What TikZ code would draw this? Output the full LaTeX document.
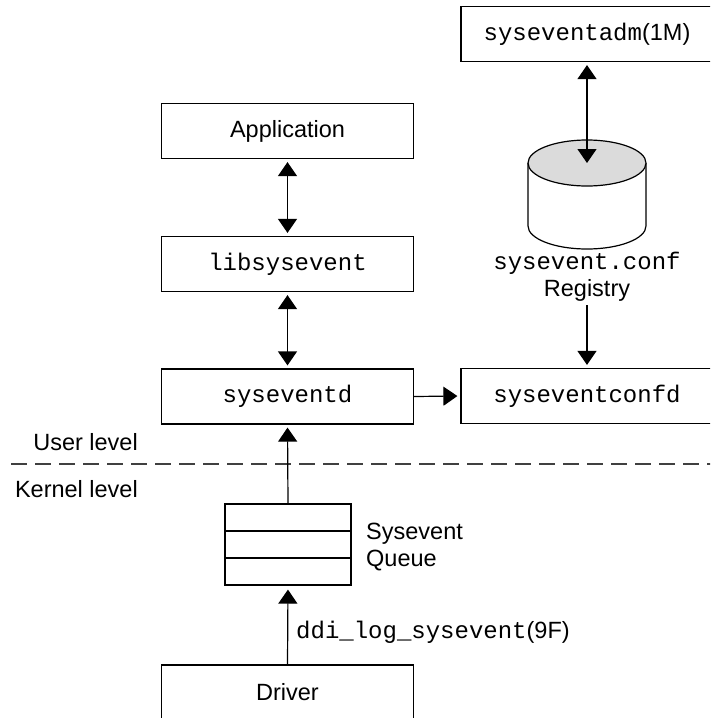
\documentclass[tikz,border=0pt]{standalone}
\usepackage{fontspec}
\setmainfont{Liberation Sans}
\setmonofont{Liberation Mono}
\usetikzlibrary{arrows.meta}
\newcommand\codetxt[1]{{\ttfamily\fontsize{24}{27}\selectfont #1}}
\begin{document}
\begin{tikzpicture}[x=1pt,y=-1pt,
  every node/.style={font=\fontsize{23.5}{27}\selectfont},
  box/.style={draw, line width=1.2pt, minimum width=252pt, minimum height=55pt,
    inner sep=0pt, fill=white},
  label/.style={inner sep=0pt},
  link/.style={line width=1.2pt},
  >={Triangle[width=19pt,length=14pt]}]
\useasboundingbox (0,0) rectangle (710,718);
\clip (0,0) rectangle (710,718);

% left column
\node[box] (app)  at (287.5,131)   {Application};
\node[box] (lib)  at (287.5,264)   {\codetxt{libsysevent}};
\node[box] (sysd) at (287.5,396.5) {\codetxt{syseventd}};
\node[box] (drv)  at (287.5,692.5) {Driver};

% event queue with its three slots
\node[draw, line width=1.2pt, minimum width=126pt, minimum height=81pt, inner sep=0pt]
  (queue) at (288,544.5) {};
\draw[link] ([yshift=13.5pt]queue.west) -- ([yshift=13.5pt]queue.east);
\draw[link] ([yshift=-13.5pt]queue.west) -- ([yshift=-13.5pt]queue.east);
\node[label, anchor=base west] (qa) at (366,539) {Sysevent};
\node[label, anchor=base west] (qb) at (366,566) {Queue};

% right column
\node[box] (adm)   at (587,34)  {\codetxt{syseventadm}(1M)};
\node[box] (confd) at (587,396) {\codetxt{syseventconfd}};

% registry database
\draw[link, fill=white] (528pt,-163pt) -- (528pt,-226pt)
  arc[start angle=180, end angle=360, x radius=59pt, y radius=23pt] -- (646pt,-163pt);
\filldraw[link, fill=black!14] (587,163) ellipse [x radius=59pt, y radius=23pt];
\coordinate (dbtop) at (587,163);
\node[label] (conf) at (587,263) {\codetxt{sysevent.conf}};
\node[label] (reg)  at (587,290) {Registry};

% user / kernel boundary
\coordinate (bl) at (11,464);
\coordinate (br) at (712,464);
\draw[line width=1.2pt, black!75, dash pattern=on 16pt off 8pt] (bl) -- (br);
\node[label, anchor=east] (ul) at (138,442) {User level};
\node[label, anchor=east] (kl) at (138,489) {Kernel level};

% connectors
\draw[link, <->, shorten <=3pt, shorten >=3pt] (app.south) -- (lib.north);
\draw[link, <->, shorten <=3pt, shorten >=3pt] (lib.south) -- (sysd.north);
\draw[link, ->, shorten >=3pt] (queue.north) -- (sysd.south);
\draw[link, ->, shorten >=4pt] (drv.north) -- (queue.south);
\node[label, anchor=base west] (ddi) at (296,638) {\codetxt{ddi\_log\_sysevent}(9F)};
\draw[link, ->, shorten >=3pt] (sysd.east) -- (confd.west);
\draw[link, <->, shorten <=3pt] (adm.south) -- (dbtop);
\draw[link, ->, shorten <=4pt, shorten >=3pt] (reg.south) -- (confd.north);
\end{tikzpicture}
\end{document}
